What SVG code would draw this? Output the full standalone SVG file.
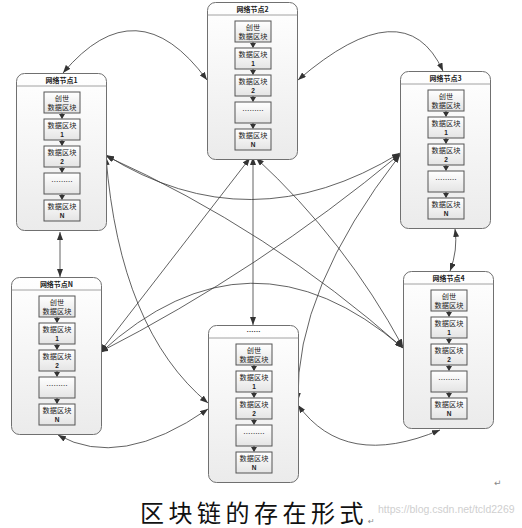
<svg xmlns="http://www.w3.org/2000/svg" xmlns:xlink="http://www.w3.org/1999/xlink" width="522" height="528" viewBox="0 0 522 528">
<defs>
<linearGradient id="gNode" x1="0" y1="0" x2="0" y2="1">
<stop offset="0" stop-color="#ffffff"/><stop offset="1" stop-color="#ebebeb"/>
</linearGradient>
<linearGradient id="gBlk" x1="0" y1="0" x2="0" y2="1">
<stop offset="0" stop-color="#ffffff"/><stop offset="1" stop-color="#e4e4e4"/>
</linearGradient>
<marker id="ah" viewBox="0 0 8 6" markerWidth="8" markerHeight="6" refX="8" refY="3" orient="auto-start-reverse" markerUnits="userSpaceOnUse">
<path d="M0,0 L8,3 L0,6 z" fill="#333"/>
</marker>
<g id="tri"><path d="M-3,-5 L3,-5 L0,0 z" fill="#333"/></g>
<g id="frame">
<rect x="0.5" y="0.5" width="90" height="157" rx="8" ry="8" fill="url(#gNode)" stroke="#707070" stroke-width="1"/>
<line x1="0.5" y1="13" x2="90.5" y2="13" stroke="#8a8a8a" stroke-width="0.8"/>
<rect x="28" y="19" width="36" height="21" class="blk"/>
<rect x="28" y="46" width="36" height="21" class="blk"/>
<rect x="28" y="73" width="36" height="21" class="blk"/>
<rect x="28" y="100" width="36" height="21" class="blk"/>
<rect x="28" y="127" width="36" height="21" class="blk"/>
<line x1="46" y1="40" x2="46" y2="45" class="tl"/><use xlink:href="#tri" x="46" y="46"/>
<line x1="46" y1="67" x2="46" y2="72" class="tl"/><use xlink:href="#tri" x="46" y="73"/>
<line x1="46" y1="94" x2="46" y2="99" class="tl"/><use xlink:href="#tri" x="46" y="100"/>
<line x1="46" y1="121" x2="46" y2="126" class="tl"/><use xlink:href="#tri" x="46" y="127"/>
<text x="46" y="27.5" class="bt">创世</text>
<text x="46" y="36.8" class="bt">数据区块</text>
<text x="46" y="54.8" class="bt">数据区块</text>
<text x="46" y="63.5" class="bn">1</text>
<text x="46" y="81.8" class="bt">数据区块</text>
<text x="46" y="90.5" class="bn">2</text>
<text x="46" y="111" class="bt">………</text>
<text x="46" y="135.8" class="bt">数据区块</text>
<text x="46" y="144.5" class="bn">N</text>
</g>
<style>
.blk{fill:url(#gBlk);stroke:#555;stroke-width:1}
.tl{stroke:#333;stroke-width:0.8}
.bt{font-family:"Noto Sans CJK SC","Liberation Sans",sans-serif;font-size:7.2px;fill:#222;text-anchor:middle}
.bn{font-family:"Liberation Sans","Noto Sans CJK SC",sans-serif;font-size:6.5px;font-weight:bold;fill:#222;text-anchor:middle}
.tt{font-family:"Noto Sans CJK SC","Liberation Sans",sans-serif;font-size:7px;font-weight:bold;fill:#222;text-anchor:middle}
.cn{fill:none;stroke:#3a3a3a;stroke-width:0.8;marker-start:url(#ah);marker-end:url(#ah)}
</style>
</defs>
<rect width="522" height="528" fill="#ffffff"/>

<g id="connectors">
<path class="cn" d="M63,73 Q137,-15 207,80"/>
<path class="cn" d="M298,80 Q405,-12 443,71"/>
<path class="cn" d="M60,232 L60,277"/>
<path class="cn" d="M455,229 Q458,250 450,271"/>
<path class="cn" d="M58,435 Q120,470 208,409"/>
<path class="cn" d="M298,405 Q345,470 440,430"/>
<path class="cn" d="M253,157 L253,325"/>
<path class="cn" d="M106,155 Q250,245 400,153"/>
<path class="cn" d="M106,156 Q270,230 403,348"/>
<path class="cn" d="M106,157 Q120,330 208,403"/>
<path class="cn" d="M100,352 L250,158"/>
<path class="cn" d="M100,352 Q260,270 400,154"/>
<path class="cn" d="M100,353 Q250,216 403,348"/>
<path class="cn" d="M256,158 Q345,240 403,347"/>
<path class="cn" d="M400,155 Q295,290 298,401"/>
</g>

<g id="node1" transform="translate(16,73)">
<use xlink:href="#frame"/>
<text x="45.5" y="10" class="tt">网络节点1</text>
</g>
<g id="node2" transform="translate(207,2)">
<use xlink:href="#frame"/>
<text x="45.5" y="10" class="tt">网络节点2</text>
</g>
<g id="node3" transform="translate(400,71)">
<use xlink:href="#frame"/>
<text x="45.5" y="10" class="tt">网络节点3</text>
</g>
<g id="nodeN" transform="translate(11,277)">
<use xlink:href="#frame"/>
<text x="45.5" y="10" class="tt">网络节点N</text>
</g>
<g id="nodeC" transform="translate(208,325)">
<use xlink:href="#frame"/>
<text x="45.5" y="9" class="tt">……</text>
</g>
<g id="node4" transform="translate(403,271)">
<use xlink:href="#frame"/>
<text x="45.5" y="10" class="tt">网络节点4</text>
</g>

<text x="378" y="513" font-family="Liberation Sans, sans-serif" font-size="10.5" fill="#cfcfcf">https://blog.csdn.net/tcld2269</text>
<text x="140" y="522" font-family="Noto Sans CJK SC, sans-serif" font-size="24" letter-spacing="4.5" fill="#111">区块链的存在形式</text>
<text x="368" y="524" font-family="DejaVu Sans, sans-serif" font-size="8" fill="#888">↵</text>
<text x="494" y="486" font-family="DejaVu Sans, sans-serif" font-size="9" fill="#888">↵</text>
</svg>
